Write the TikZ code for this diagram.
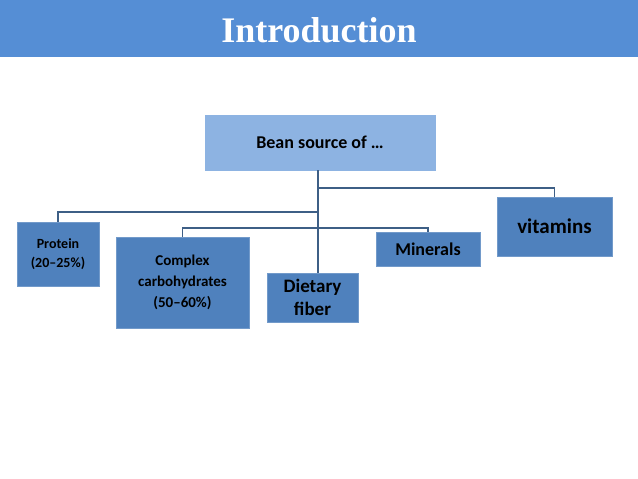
\documentclass[tikz,border=0pt]{standalone}
\usepackage{fontspec}
\setmainfont{Carlito}
\newfontfamily\titlefont{Liberation Serif}
\definecolor{barblue}{HTML}{558ED5}
\definecolor{boxblue}{HTML}{4F81BD}
\definecolor{lightblue}{HTML}{8DB3E2}
\definecolor{linkblue}{HTML}{3E5F86}
\begin{document}
\begin{tikzpicture}[x=1pt, y=-1pt,
                item/.style = {
                    rectangle, fill=boxblue, draw=boxblue!80!white,
                    inner sep=0pt, align=center,
                    font=\bfseries, text=black
                },
                link/.style = {
                    draw=linkblue, line width=1.2pt
                }
                ]
    \useasboundingbox (0,0) rectangle (638,479);
    \fill[barblue] (0,0) rectangle (638,57);
    \node[text=white, font=\titlefont\bfseries\fontsize{36}{40}\selectfont] (title) at (319,30) {Introduction};

    \node[item, fill=lightblue, draw=lightblue, minimum width=230pt, minimum height=55pt,
          font=\bfseries\fontsize{18}{22}\selectfont] (bean) at (320,142.5) {Bean source of \dots};

    \node[item, minimum width=82pt, minimum height=64pt,
          font=\bfseries\fontsize{14}{19}\selectfont] (protein) at (58,254) {Protein\\(20--25\%)};
    \node[item, minimum width=133pt, minimum height=91pt,
          font=\bfseries\fontsize{15}{21}\selectfont] (complex) at (182.5,282.5) {Complex\\carbohydrates\\(50--60\%)};
    \node[item, minimum width=91pt, minimum height=49pt,
          font=\bfseries\fontsize{19}{23}\selectfont] (fiber) at (312.5,297.5) {Dietary\\fiber};
    \node[item, minimum width=104pt, minimum height=34pt,
          font=\bfseries\fontsize{18}{22}\selectfont] (minerals) at (428,249) {Minerals};
    \node[item, minimum width=115pt, minimum height=59pt,
          font=\bfseries\fontsize{21}{25}\selectfont] (vitamins) at (554.5,226.5) {vitamins};

    \coordinate (hub) at (318,170);
    \path[link] (bean.south -| hub) -- (hub |- fiber.north);
    \path[link] (hub |- 0,188) -| (vitamins.north);
    \path[link] (hub |- 0,212) -| (protein.north);
    \path[link] (complex.north) |- (hub |- 0,228) -| (minerals.north);
\end{tikzpicture}
\end{document}
